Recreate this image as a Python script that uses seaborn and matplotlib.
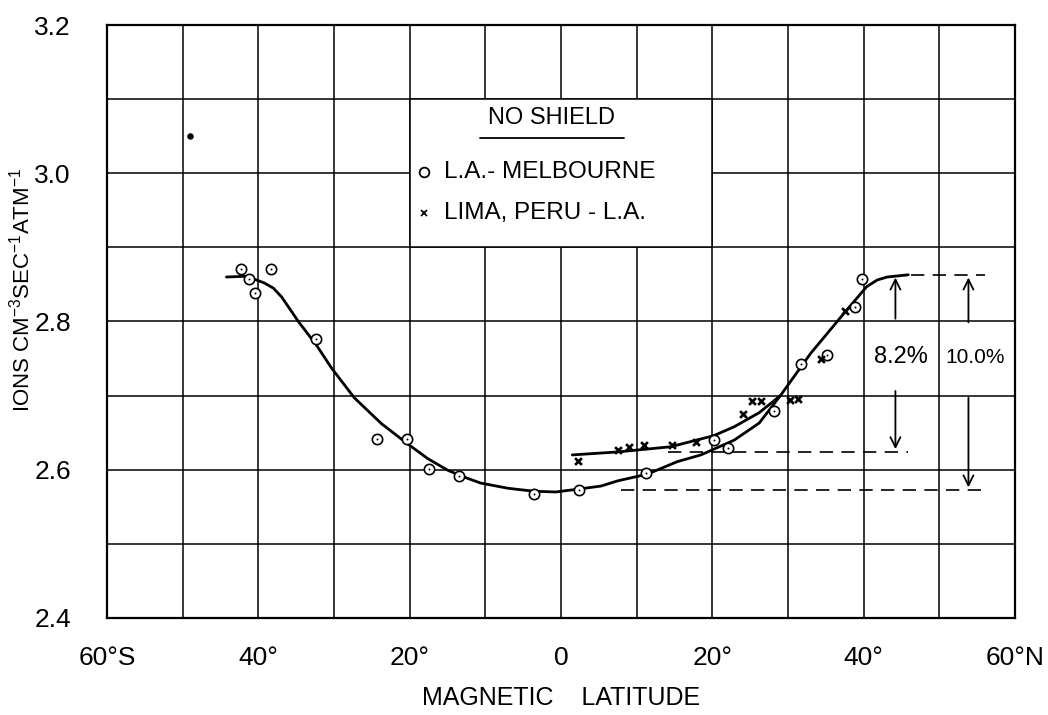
import matplotlib
matplotlib.use("Agg")
import matplotlib.pyplot as plt
import seaborn as sns
import pandas as pd
from matplotlib.patches import Rectangle

# ---------------- data ----------------
mel_lat = [-42.3, -41.2, -40.4, -38.3, -32.4, -24.3, -20.3, -17.5, -13.5, -3.5,
           2.4, 11.3, 20.2, 22.1, 28.1, 31.7, 35.1, 38.8, 39.8]
mel_ion = [2.871, 2.857, 2.839, 2.871, 2.776, 2.642, 2.642, 2.601, 2.592, 2.567,
           2.573, 2.595, 2.640, 2.629, 2.679, 2.742, 2.755, 2.819, 2.857]

lima_lat = [2.3, 7.5, 9.0, 11.0, 14.7, 17.8, 24.0, 25.3, 26.4, 30.3, 31.3, 34.4, 37.6]
lima_ion = [2.612, 2.627, 2.631, 2.634, 2.633, 2.637, 2.675, 2.693, 2.693, 2.694,
            2.695, 2.750, 2.814]

mel_curve_lat = [-44.2, -41.8, -40.5, -39.2, -38.0, -36.9, -34.7, -32.3, -30.3, -27.3,
                 -23.7, -20.4, -17.6, -14.9, -12.5, -10.6, -7.0, -3.6, -0.7, 2.4,
                 5.3, 7.5, 11.4, 15.4, 18.5, 22.9, 26.2, 29.0, 33.0, 37.4,
                 40.4, 41.8, 43.1, 45.9]
mel_curve_ion = [2.860, 2.861, 2.857, 2.852, 2.845, 2.833, 2.800, 2.768, 2.737, 2.697,
                 2.662, 2.636, 2.615, 2.599, 2.589, 2.582, 2.575, 2.571, 2.570, 2.574,
                 2.578, 2.585, 2.594, 2.611, 2.620, 2.640, 2.663, 2.700, 2.757, 2.811,
                 2.847, 2.856, 2.860, 2.863]

lima_curve_lat = [1.5, 7.5, 14.5, 20.2, 22.9, 26.2, 29.0]
lima_curve_ion = [2.620, 2.624, 2.631, 2.646, 2.658, 2.677, 2.700]

stray_lat = [-49.0]
stray_ion = [3.050]

x_ticks = [-60, -40, -20, 0, 20, 40, 60]
x_ticklabels = ["60°S", "40°", "20°", "0", "20°", "40°", "60°N"]
y_ticks = [2.4, 2.6, 2.8, 3.0, 3.2]
y_ticklabels = ["2.4", "2.6", "2.8", "3.0", "3.2"]

# ---------------- style ----------------
sns.set_theme(style="white")
FONT = ["Liberation Sans", "DejaVu Sans"]
plt.rcParams["font.family"] = FONT
plt.rcParams["mathtext.fontset"] = "custom"
plt.rcParams["mathtext.rm"] = "Liberation Sans"
for k in ["text.color", "axes.labelcolor", "xtick.color", "ytick.color"]:
    plt.rcParams[k] = "black"

fig = plt.figure(figsize=(10.48, 7.15), dpi=100)
ax = fig.add_axes([0.102, 0.1357, 0.8665, 0.8293])

mel_df = pd.DataFrame({"lat": mel_lat, "ion": mel_ion})
lima_df = pd.DataFrame({"lat": lima_lat, "ion": lima_ion})
mc_df = pd.DataFrame({"lat": mel_curve_lat, "ion": mel_curve_ion})
lc_df = pd.DataFrame({"lat": lima_curve_lat, "ion": lima_curve_ion})
st_df = pd.DataFrame({"lat": stray_lat, "ion": stray_ion})

sns.lineplot(data=mc_df, x="lat", y="ion", sort=False, estimator=None,
             color="black", lw=2.0, ax=ax, zorder=3)
sns.lineplot(data=lc_df, x="lat", y="ion", sort=False, estimator=None,
             color="black", lw=2.0, ax=ax, zorder=3)
sns.scatterplot(data=mel_df, x="lat", y="ion", marker="o", s=55,
                facecolor="white", edgecolor="black", linewidth=1.2, ax=ax, zorder=4)
sns.scatterplot(data=mel_df, x="lat", y="ion", marker="o", s=2,
                color="black", linewidth=0, ax=ax, zorder=5)
sns.scatterplot(data=lima_df, x="lat", y="ion", marker="x", s=24,
                color="black", linewidth=1.9, ax=ax, zorder=4)
sns.scatterplot(data=st_df, x="lat", y="ion", marker="o", s=22,
                color="black", linewidth=0, ax=ax, zorder=4)

# ---------------- axes ----------------
ax.set_xlim(-60, 60)
ax.set_ylim(2.4, 3.2)
ax.set_xticks(x_ticks)
ax.set_xticklabels(x_ticklabels)
ax.set_xticks(range(-50, 60, 20), minor=True)
ax.set_yticks(y_ticks)
ax.set_yticklabels(y_ticklabels)
ax.set_yticks([2.5, 2.7, 2.9, 3.1], minor=True)
ax.grid(which="both", color="black", lw=1.1)
ax.set_axisbelow(True)
ax.tick_params(which="both", length=0)
ax.tick_params(axis="x", pad=20, labelsize=19)
ax.tick_params(axis="y", pad=26, labelsize=19)
for sp in ax.spines.values():
    sp.set_visible(True)
    sp.set_color("black")
    sp.set_linewidth(1.6)

ax.set_xlabel("MAGNETIC    LATITUDE", fontsize=18)
ax.set_ylabel(r"IONS CM$^{\mathregular{-3}}$SEC$^{\mathregular{-1}}$ATM$^{\mathregular{-1}}$",
              fontsize=16)
ax.xaxis.set_label_coords(0.5, -0.135)
ax.yaxis.set_label_coords(-0.094, 0.553)
ax.xaxis.label.set_va("center")
ax.yaxis.label.set_va("center")

# ---------------- legend box ----------------
ax.add_patch(Rectangle((-20, 2.9), 40, 0.2, facecolor="white", edgecolor="black",
                       lw=1.1, zorder=1))
ax.text(-1.3, 3.075, "NO SHIELD", fontsize=17, ha="center", va="center", zorder=6)
ax.plot([-10.7, 8.3], [3.048, 3.048], color="black", lw=1.3, zorder=6)
ax.plot([-18.1], [3.002], marker="o", ms=7, mfc="white", mec="black", mew=1.3, zorder=6)
ax.text(-15.4, 3.002, "L.A.- MELBOURNE", fontsize=17.5, ha="left", va="center", zorder=6)
ax.plot([-18.1], [2.946], marker="x", ms=5, color="black", mew=1.3, zorder=6)
ax.text(-15.4, 2.946, "LIMA, PERU - L.A.", fontsize=17.5, ha="left", va="center", zorder=6)

# ---------------- dashed reference lines and arrows ----------------
dash = (0, (8, 5))
ax.plot([46.2, 56.1], [2.863, 2.863], color="black", lw=1.2, ls=dash, zorder=3)
ax.plot([14.2, 45.9], [2.624, 2.624], color="black", lw=1.2, ls=dash, zorder=3)
ax.plot([8.0, 56.0], [2.5725, 2.5725], color="black", lw=1.2, ls=dash, zorder=3)

arrow = dict(arrowstyle="->", color="black", lw=1.3, mutation_scale=18)
ax.annotate("", xy=(44.2, 2.863), xytext=(44.2, 2.800), arrowprops=arrow)
ax.annotate("", xy=(44.2, 2.624), xytext=(44.2, 2.710), arrowprops=arrow)
ax.annotate("", xy=(53.85, 2.863), xytext=(53.85, 2.795), arrowprops=arrow)
ax.annotate("", xy=(53.85, 2.5725), xytext=(53.85, 2.701), arrowprops=arrow)
ax.text(44.9, 2.752, "8.2%", fontsize=17, ha="center", va="center", zorder=6)
ax.text(54.7, 2.752, "10.0%", fontsize=15, ha="center", va="center", zorder=6)

fig.savefig("out.png", dpi=100)
